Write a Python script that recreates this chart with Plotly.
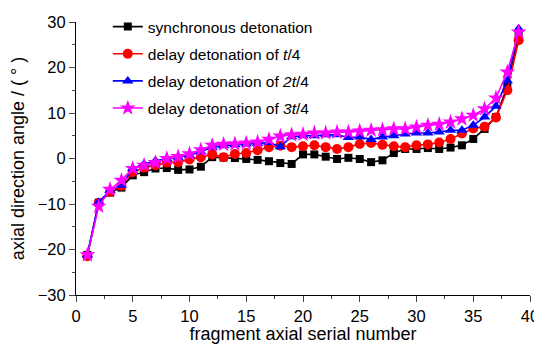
import plotly.graph_objects as go

x = list(range(1, 40))

sync = [-21.2, -9.7, -7.5, -6.4, -3.7, -3.0, -2.2, -2.1, -2.5, -2.4,
        -1.8, 0.3, 0.2, 0.1, -0.1, -0.3, -0.6, -1.0, -1.2, 0.9,
        0.9, 0.4, -0.1, 0.15, -0.1, -0.8, -0.4, 1.2, 2.1, 2.1,
        2.3, 2.1, 2.4, 2.9, 4.3, 6.5, 9.1, 15.8, 27.0]

delay1 = [-21.5, -9.8, -7.3, -6.0, -3.0, -2.0, -1.5, -0.9, -0.8, -0.2,
          0.3, 0.9, 0.3, 1.0, 1.2, 1.8, 2.5, 2.8, 2.5, 2.7,
          2.9, 2.5, 2.1, 2.5, 3.2, 3.4, 3.0, 2.7, 2.5, 2.9,
          3.1, 3.5, 4.3, 5.5, 6.6, 7.0, 9.0, 15.0, 26.0]

delay2 = [-21.2, -9.6, -7.0, -5.9, -2.2, -1.2, -0.5, 0.0, 0.3, 0.7,
          1.5, 2.5, 2.8, 3.0, 3.2, 3.3, 3.5, 2.6, 4.8, 5.0,
          5.0, 5.2, 5.2, 4.6, 4.7, 4.2, 4.7, 5.0, 5.4, 5.6,
          5.6, 5.8, 6.2, 6.2, 7.3, 9.1, 11.5, 17.1, 28.5]

delay3 = [-21.2, -10.5, -6.8, -4.8, -2.2, -1.5, -0.9, 0.0, 0.4, 1.0,
          1.9, 2.9, 3.1, 3.2, 3.4, 3.6, 4.2, 4.9, 5.2, 5.3,
          5.6, 5.6, 5.8, 5.8, 6.0, 6.2, 6.3, 6.5, 6.5, 6.9,
          7.3, 7.5, 8.0, 8.7, 9.5, 10.9, 13.3, 19.0, 27.8]

names = ["synchronous detonation",
         "delay detonation of <i>t</i>/4",
         "delay detonation of <i>2t</i>/4",
         "delay detonation of <i>3t</i>/4"]
series = [sync, delay1, delay2, delay3]
colors = ["#000000", "#ff0000", "#0000ff", "#ff00ff"]
symbols = ["square", "circle", "triangle-up", "star"]
sizes = [8, 10, 10, 12]

FONT = "Liberation Sans, Arial, sans-serif"

fig = go.Figure()
for i, (nm, ys, c, s, sz) in enumerate(zip(names, series, colors, symbols, sizes)):
    fig.add_trace(go.Scatter(
        x=x, y=ys, mode="lines+markers", name=nm, legendgroup=str(i),
        line=dict(color=c, width=1.6),
        marker=dict(symbol=s, size=sz, color=c, line=dict(width=0)),
    ))

# The page body has an 8px margin, so the figure is a little smaller
fig.update_layout(
    width=534, height=336,
    margin=dict(l=68, r=12, t=14, b=49, autoexpand=False),
    plot_bgcolor="white", paper_bgcolor="white",
    font=dict(family=FONT, size=16, color="black"),
    showlegend=True,
    legend=dict(x=0.07, xanchor="left", y=0.994, yref="container",
                yanchor="top",
                bgcolor="rgba(0,0,0,0)", font=dict(size=15.5),
                tracegroupgap=4),
    xaxis=dict(range=[0, 40], tickmode="linear", tick0=0, dtick=5,
               automargin=False,
               ticks="outside", ticklen=6, tickwidth=1, showline=True,
               linecolor="black", linewidth=1, showgrid=False, zeroline=False,
               minor=dict(ticks="outside", ticklen=3, dtick=2.5, tick0=0,
                          showgrid=False),
               title=dict(text="fragment axial serial number", standoff=4,
                          font=dict(size=18)),
               tickfont=dict(size=16.5)),
    yaxis=dict(range=[-30, 30], tickmode="linear", tick0=-30, dtick=10,
               automargin=False,
               ticks="outside", ticklen=6, tickwidth=1, showline=True,
               linecolor="black", linewidth=1, showgrid=False, zeroline=False,
               minor=dict(ticks="outside", ticklen=3, dtick=5, tick0=0,
                          showgrid=False),
               title=dict(text="axial direction angle / ( ° )", standoff=8,
                          font=dict(size=18)),
               tickfont=dict(size=16.5)),
)

fig.write_html("out.html")
